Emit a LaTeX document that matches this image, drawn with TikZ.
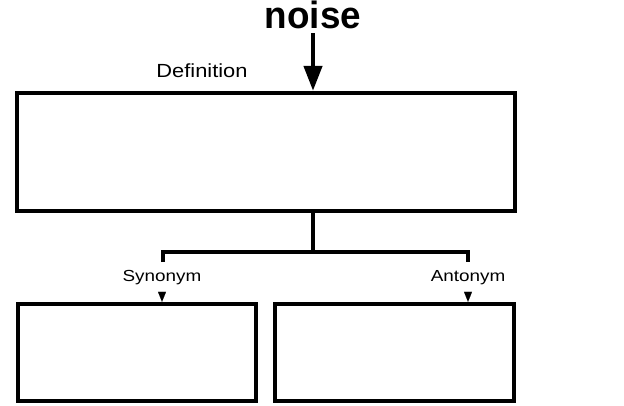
\documentclass[tikz,border=0pt]{standalone}
\usepackage{fontspec}
\setmainfont{Liberation Sans}
\usetikzlibrary{arrows.meta}
\begin{document}
\begin{tikzpicture}[x=1pt,y=-1pt,
  boxnode/.style={draw=black, line width=4.3pt, fill=white, inner sep=0pt},
  thickline/.style={line width=4.3pt, line join=miter, line cap=butt},
  bigarrow/.style={thickline, -{Triangle[width=18pt,length=25pt]}},
  smallarrow/.style={line width=0.1pt, -{Triangle[width=8pt,length=10pt]}},
  title/.style={font=\fontsize{38}{38}\selectfont\bfseries, inner sep=0pt, xscale=0.97, anchor=base},
  lbl/.style={font=\fontsize{19}{19}\selectfont, inner sep=1.5pt, xscale=1.15, anchor=base},
  slbl/.style={font=\fontsize{16}{16}\selectfont, inner sep=1.5pt, xscale=1.18, anchor=base}
]
\useasboundingbox (0,0) rectangle (624,405);
% boxes
\node[boxnode, minimum width=498pt, minimum height=118pt] (main) at (266,152) {};
\node[boxnode, minimum width=238pt, minimum height=97pt] (left) at (137,352.5) {};
\node[boxnode, minimum width=239pt, minimum height=97pt] (right) at (394.5,352.5) {};
% texts
\node[title] (noise) at (313,28.5) {noise};
\node[lbl] (def) at (202,77.5) {Definition};
\node[slbl] (syn) at (162,281.5) {Synonym};
\node[slbl] (ant) at (468,281.5) {Antonym};
% top arrow
\draw[bigarrow, shorten <=4pt] (noise.south) -- (noise.south |- main.north);
% tree
\coordinate (junc) at (313,252);
\coordinate (synT) at (163,252);
\coordinate (antT) at (468,252);
\draw[thickline] (junc |- main.south) -- (junc);
\draw[thickline] ([yshift=-10pt]synT) -- (synT) -- (antT) -- ([yshift=-10pt]antT);
% small arrows
\draw[smallarrow] ([yshift=10pt]syn.south |- left.north) -- (syn.south |- left.north);
\draw[smallarrow] ([yshift=10pt]ant.south |- right.north) -- (ant.south |- right.north);
\end{tikzpicture}
\end{document}
